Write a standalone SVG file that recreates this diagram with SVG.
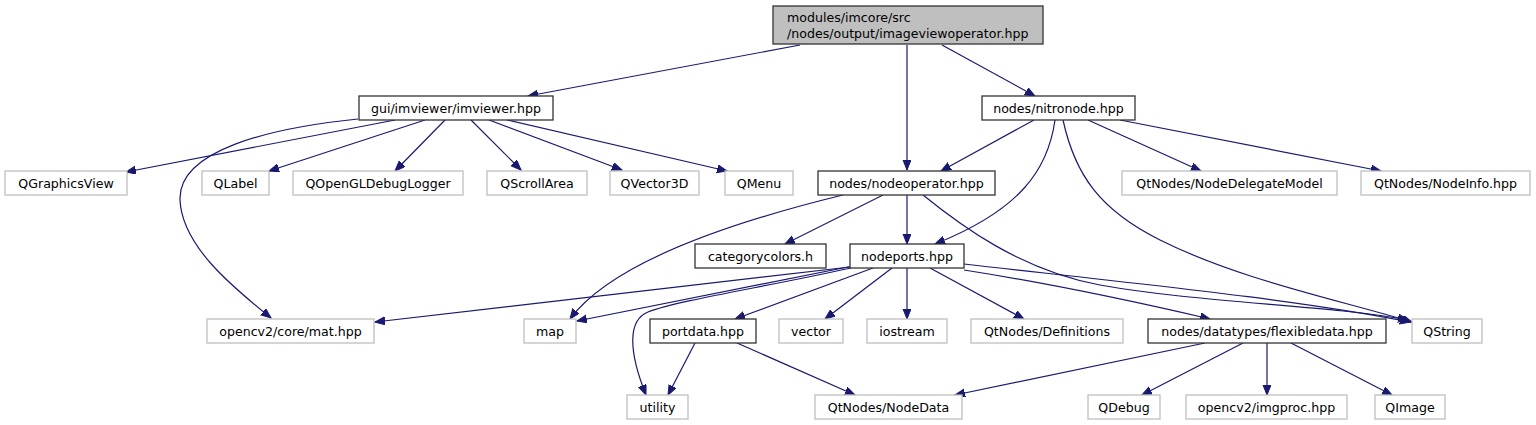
<svg xmlns="http://www.w3.org/2000/svg" width="1536" height="425" viewBox="0 0 1536 425">
<style>
text{font-family:"DejaVu Sans","Liberation Sans",sans-serif;font-size:12.6px;fill:#000;text-anchor:middle}
.ext rect{fill:#fff;stroke:#bfbfbf;stroke-width:1.3}
.int rect{fill:#fff;stroke:#333;stroke-width:1.3}
.root rect{fill:#bfbfbf;stroke:#333;stroke-width:1.3}
#edges path{fill:none;stroke:#191970;stroke-width:1.2;marker-end:url(#ah)}
</style>
<defs>
<marker id="ah" markerUnits="userSpaceOnUse" markerWidth="11" markerHeight="9" refX="10" refY="4" orient="auto">
<path d="M0,0 L10,4 L0,8 z" fill="#191970" stroke="#191970" stroke-width="1"/>
</marker>
</defs>
<rect width="1536" height="425" fill="#fff"/>
<g id="edges">
<path d="M800,45 L528,96"/>
<path d="M907,45 L907,170"/>
<path d="M942,45 L1035,96"/>
<path d="M395,120 L126,172"/>
<path d="M358,119 C270,128 178,150 180,200 C182,245 230,285 271,318"/>
<path d="M425,120 L269,171"/>
<path d="M445,120 L395,171"/>
<path d="M471,120 L521,170"/>
<path d="M489,120 L622,170"/>
<path d="M507,120 L727,171"/>
<path d="M1034,120 L941,171"/>
<path d="M1055,120 C1048,170 1020,210 935,244"/>
<path d="M1063,120 C1075,175 1100,210 1160,240 C1240,280 1340,300 1412,322"/>
<path d="M1088,120 L1201,171"/>
<path d="M1120,120 L1381,171"/>
<path d="M843,195 C720,225 610,265 570,319"/>
<path d="M883,195 L785,244"/>
<path d="M907,195 L907,244"/>
<path d="M923,195 C960,225 1020,270 1100,285 C1200,303 1330,305 1408,320"/>
<path d="M850,267 L375,322"/>
<path d="M853,266 L577,321"/>
<path d="M851,268 C760,288 680,300 648,312 C628,320 628,350 646,395"/>
<path d="M873,268 L735,319"/>
<path d="M892,268 L825,319"/>
<path d="M907,268 L907,319"/>
<path d="M930,268 L1024,319"/>
<path d="M964,270 C1060,285 1150,305 1210,319"/>
<path d="M964,264 C1150,285 1300,300 1410,322"/>
<path d="M695,343 L668,395"/>
<path d="M737,343 L855,395"/>
<path d="M1205,343 L955,395"/>
<path d="M1243,343 L1142,395"/>
<path d="M1267,343 L1267,395"/>
<path d="M1291,343 L1392,395"/>
</g>
<g id="n-root" class="root"><rect x="773" y="6" width="270" height="38"/><text x="787" y="22" style="text-anchor:start">modules/imcore/src</text><text x="787" y="38" style="text-anchor:start">/nodes/output/imageviewoperator.hpp</text></g>
<g id="n-imviewer" class="int"><rect x="359" y="96" width="194" height="24"/><text x="456" y="112.5">gui/imviewer/imviewer.hpp</text></g>
<g id="n-nitronode" class="int"><rect x="982" y="96" width="153" height="24"/><text x="1058.5" y="112.5">nodes/nitronode.hpp</text></g>
<g id="n-qgraphicsview" class="ext"><rect x="5" y="171" width="122" height="24"/><text x="66" y="187.5">QGraphicsView</text></g>
<g id="n-qlabel" class="ext"><rect x="202" y="171" width="67" height="24"/><text x="235.5" y="187.5">QLabel</text></g>
<g id="n-qopengl" class="ext"><rect x="293" y="171" width="170" height="24"/><text x="378" y="187.5">QOpenGLDebugLogger</text></g>
<g id="n-qscrollarea" class="ext"><rect x="487" y="171" width="100" height="24"/><text x="537" y="187.5">QScrollArea</text></g>
<g id="n-qvector3d" class="ext"><rect x="610" y="171" width="89" height="24"/><text x="654.5" y="187.5">QVector3D</text></g>
<g id="n-qmenu" class="ext"><rect x="725" y="171" width="68" height="24"/><text x="759" y="187.5">QMenu</text></g>
<g id="n-nodeoperator" class="int"><rect x="818" y="171" width="177" height="24"/><text x="906.5" y="187.5">nodes/nodeoperator.hpp</text></g>
<g id="n-nodedelegatemodel" class="ext"><rect x="1122" y="171" width="215" height="24"/><text x="1229.5" y="187.5">QtNodes/NodeDelegateModel</text></g>
<g id="n-nodeinfo" class="ext"><rect x="1361" y="171" width="169" height="24"/><text x="1445.5" y="187.5">QtNodes/NodeInfo.hpp</text></g>
<g id="n-categorycolors" class="int"><rect x="695" y="244" width="131" height="24"/><text x="760.5" y="260.5">categorycolors.h</text></g>
<g id="n-nodeports" class="int"><rect x="850" y="244" width="114" height="24"/><text x="907" y="260.5">nodeports.hpp</text></g>
<g id="n-mat" class="ext"><rect x="207" y="319" width="167" height="24"/><text x="290.5" y="335.5">opencv2/core/mat.hpp</text></g>
<g id="n-map" class="ext"><rect x="524" y="319" width="52" height="24"/><text x="550" y="335.5">map</text></g>
<g id="n-portdata" class="int"><rect x="650" y="319" width="106" height="24"/><text x="703" y="335.5">portdata.hpp</text></g>
<g id="n-vector" class="ext"><rect x="779" y="319" width="64" height="24"/><text x="811" y="335.5">vector</text></g>
<g id="n-iostream" class="ext"><rect x="867" y="319" width="80" height="24"/><text x="907" y="335.5">iostream</text></g>
<g id="n-definitions" class="ext"><rect x="971" y="319" width="152" height="24"/><text x="1047" y="335.5">QtNodes/Definitions</text></g>
<g id="n-flexibledata" class="int"><rect x="1148" y="319" width="238" height="24"/><text x="1267" y="335.5">nodes/datatypes/flexibledata.hpp</text></g>
<g id="n-qstring" class="ext"><rect x="1412" y="319" width="70" height="24"/><text x="1447" y="335.5">QString</text></g>
<g id="n-utility" class="ext"><rect x="627" y="395" width="61" height="24"/><text x="657.5" y="411.5">utility</text></g>
<g id="n-nodedata" class="ext"><rect x="815" y="395" width="147" height="24"/><text x="888.5" y="411.5">QtNodes/NodeData</text></g>
<g id="n-qdebug" class="ext"><rect x="1088" y="395" width="72" height="24"/><text x="1124" y="411.5">QDebug</text></g>
<g id="n-imgproc" class="ext"><rect x="1186" y="395" width="161" height="24"/><text x="1266.5" y="411.5">opencv2/imgproc.hpp</text></g>
<g id="n-qimage" class="ext"><rect x="1375" y="395" width="70" height="24"/><text x="1410" y="411.5">QImage</text></g>
</svg>
